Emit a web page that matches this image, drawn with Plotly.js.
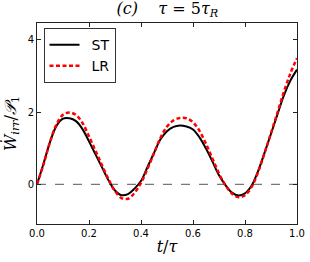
<!DOCTYPE html>
<html><head><meta charset="utf-8">
<script src="https://cdn.plot.ly/plotly-3.0.1.min.js"></script>
<style>html,body{margin:0;padding:0;background:#fff}#c{width:310px;height:262px}</style>
</head><body><div id="c"></div>
<script>
const t = [0,0.025,0.05,0.075,0.1,0.125,0.15,0.175,0.2,0.225,0.25,0.275,0.3,0.325,0.35,0.375,0.4,0.425,0.45,0.475,0.5,0.525,0.55,0.575,0.6,0.625,0.65,0.675,0.7,0.725,0.75,0.775,0.8,0.825,0.85,0.875,0.9,0.925,0.95,0.975,1.0];
const st = [0,0.57,1.17,1.62,1.82,1.83,1.75,1.53,1.19,0.83,0.47,0.11,-0.17,-0.30,-0.27,-0.12,0.09,0.48,0.87,1.25,1.47,1.59,1.63,1.60,1.52,1.30,0.99,0.63,0.25,-0.02,-0.23,-0.31,-0.25,-0.04,0.36,0.87,1.40,1.94,2.47,2.88,3.18];
const lr = [0,0.55,1.17,1.66,1.93,1.99,1.92,1.70,1.33,0.93,0.53,0.14,-0.19,-0.38,-0.40,-0.24,0.04,0.43,0.86,1.29,1.60,1.77,1.84,1.83,1.72,1.48,1.12,0.71,0.30,-0.03,-0.26,-0.36,-0.30,-0.08,0.33,0.86,1.42,1.99,2.57,3.08,3.49];
const xTicks = [0,0.2,0.4,0.6,0.8,1.0];
const xTickText = ['0.0','0.2','0.4','0.6','0.8','1.0'];
const yTicks = [0,2,4];
const names = ['ST','LR'];

const axisCommon = {showgrid:false, zeroline:false, showline:true, linecolor:'#222', linewidth:1, mirror:'ticks', ticks:'inside', ticklen:4, tickcolor:'#222', tickfont:{family:'DejaVu Sans', size:10, color:'#000'}};

Plotly.newPlot('c', [
  {x:t, y:st, name:'\u2002' + names[0], mode:'lines', line:{color:'#000', width:2, shape:'spline'}},
  {x:t, y:lr, name:'\u2002' + names[1], mode:'lines', line:{color:'#ff0000', width:2.5, dash:'4px,2.5px', shape:'spline'}}
], {
  width:310, height:262,
  margin:{l:37, r:13, t:23, b:38},
  paper_bgcolor:'#fff', plot_bgcolor:'#fff',
  title:{text:'<i>(c)</i>    <i>τ</i> = 5<i>τ</i><sub><i>R</i></sub>', font:{family:'DejaVu Serif', size:16, color:'#000'}, x:0.54, xanchor:'center', y:0.99, yanchor:'top'},
  xaxis:Object.assign({}, axisCommon, {range:[0,1], tickvals:xTicks, ticktext:xTickText, title:{text:'<i>t</i>/<i>τ</i>', font:{family:'DejaVu Serif', size:16, color:'#000'}, standoff:2}}),
  yaxis:Object.assign({}, axisCommon, {range:[-1.1,4.47], tickvals:yTicks, title:{text:'<i>Ẇ</i><sub><i>irr</i></sub>/<i>𝒫</i><sub>1</sub>', font:{family:'DejaVu Serif', size:16, color:'#000'}, standoff:11}}),
  shapes:[{type:'line', xref:'paper', x0:0, x1:1, yref:'y', y0:0, y1:0, line:{color:'#777', width:1.3, dash:'dash'}, layer:'below'}],
  legend:{x:0.025, y:0.975, xanchor:'left', yanchor:'top', bgcolor:'#fff', bordercolor:'#333', borderwidth:1, font:{family:'DejaVu Sans', size:14, color:'#000'}},
  showlegend:true
}, {staticPlot:true, displayModeBar:false});
</script></body></html>
